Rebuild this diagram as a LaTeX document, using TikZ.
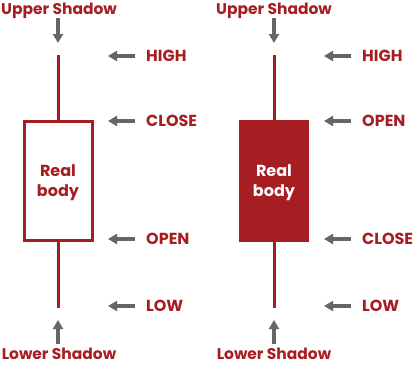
\documentclass[tikz,border=0pt]{standalone}
\usepackage{fontspec}
\setmainfont{Poppins}
\usetikzlibrary{arrows.meta}
\definecolor{cred}{HTML}{A61E22}
\definecolor{cgray}{HTML}{666666}
\tikzset{
  wick/.style={draw=cred, line width=3pt},
  bodybox/.style={draw=cred, line width=3pt},
  garrow/.style={draw=cgray, line width=3.5pt, -{Triangle[length=9pt,width=10pt]}},
  lbl/.style={text=cred, font=\fontsize{16}{18}\selectfont\bfseries, inner sep=0pt},
  shlbl/.style={text=cred, font=\fontsize{15.5}{18}\selectfont\bfseries, inner sep=0pt},
  body/.style={font=\fontsize{16}{20}\selectfont\bfseries, align=center, inner sep=0pt},
}
\begin{document}
\begin{tikzpicture}[x=1pt,y=-1pt]
\useasboundingbox (0,0) rectangle (413,365);
% left candle
\coordinate (lt) at (58,55);
\coordinate (lbt) at (58,121);
\coordinate (lbb) at (58,240);
\coordinate (lb) at (58,308);
\draw[wick] (lt) -- (lbt);
\draw[wick] (lbb) -- (lb);
\draw[bodybox] (24,121) rectangle (92,240);
\node[body, text=cred, anchor=base] (lbody) at (58,196) {Real\\body};
\node[shlbl, anchor=base] (lus) at (59,14) {Upper Shadow};
\node[shlbl, anchor=base] (lls) at (59,359) {Lower Shadow};
\coordinate (luss) at (58,18); \coordinate (lust) at (58,43);
\coordinate (llss) at (58,344); \coordinate (llst) at (58,320);
\draw[garrow] (luss) -- (lust);
\draw[garrow] (llss) -- (llst);
% left labels
\node[lbl, anchor=west] (lh) at (146,56) {HIGH};
\node[lbl, anchor=west] (lc) at (146,121) {CLOSE};
\node[lbl, anchor=west] (lo) at (146,239) {OPEN};
\node[lbl, anchor=west] (ll) at (146,306) {LOW};
\foreach \n in {lh,lc,lo,ll}{
  \draw[garrow] ([xshift=-11pt]\n.west) -- ++(-27,0);
}
% right candle
\coordinate (rt) at (274,55);
\coordinate (rb) at (274,308);
\draw[wick] (rt) -- (rb);
\fill[cred] (239,120) rectangle (309,242);
\node[body, text=white, anchor=base] (rbody) at (274,196) {Real\\body};
\node[shlbl, anchor=base] (rus) at (274,14) {Upper Shadow};
\node[shlbl, anchor=base] (rls) at (274,359) {Lower Shadow};
\coordinate (russ) at (274,18); \coordinate (rust) at (274,43);
\coordinate (rlss) at (274,344); \coordinate (rlst) at (274,320);
\draw[garrow] (russ) -- (rust);
\draw[garrow] (rlss) -- (rlst);
\node[lbl, anchor=west] (rh) at (362,56) {HIGH};
\node[lbl, anchor=west] (ro) at (362,121) {OPEN};
\node[lbl, anchor=west] (rc) at (362,239) {CLOSE};
\node[lbl, anchor=west] (rl) at (362,306) {LOW};
\foreach \n in {rh,ro,rc,rl}{
  \draw[garrow] ([xshift=-11pt]\n.west) -- ++(-27,0);
}
\end{tikzpicture}
\end{document}
